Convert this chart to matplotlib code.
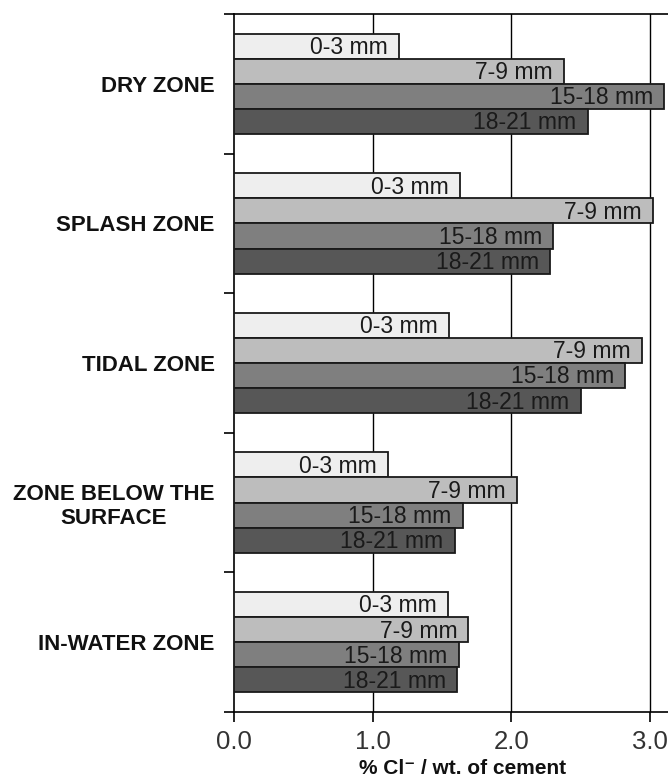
import matplotlib
matplotlib.use("Agg")
import matplotlib.pyplot as plt
import numpy as np

plt.rcParams['font.family'] = ['Liberation Sans', 'DejaVu Sans']

zones = ["DRY ZONE", "SPLASH ZONE", "TIDAL ZONE", "ZONE BELOW THE\nSURFACE", "IN-WATER ZONE"]
depths = ["0-3 mm", "7-9 mm", "15-18 mm", "18-21 mm"]
chloride = {
    "0-3 mm":   [1.19, 1.63, 1.55, 1.11, 1.54],
    "7-9 mm":   [2.38, 3.02, 2.94, 2.04, 1.69],
    "15-18 mm": [3.10, 2.30, 2.82, 1.65, 1.62],
    "18-21 mm": [2.55, 2.28, 2.50, 1.59, 1.61],
}
colors = ["#eeeeee", "#bdbdbd", "#7f7f7f", "#575757"]
xticks = [0.0, 1.0, 2.0, 3.0]

fig = plt.figure(figsize=(6.68, 7.78), dpi=100)
ax = fig.add_axes([234 / 668, 1 - 712 / 778, (677.8 - 234) / 668, (712 - 14) / 778])

h = 0.18
y = np.arange(len(zones))
for k, d in enumerate(depths):
    pos = y + (k - 1.5) * h
    vals = chloride[d]
    ax.barh(pos, vals, height=h, color=colors[k], edgecolor="#1a1a1a",
            linewidth=1.3, zorder=3)
    for p, v in zip(pos, vals):
        ax.text(v - 0.08, p + 0.01, d, ha="right", va="center", fontsize=16.5,
                color="#1a1a1a", zorder=4)

ax.set_xlim(0, 3.2)
ax.set_ylim(len(zones) - 0.5, -0.5)

for xv in xticks[1:]:
    ax.axvline(xv, color="black", linewidth=1.0, zorder=1)

ax.set_xticks(xticks)
ax.set_xticklabels([f"{t:.1f}" for t in xticks], fontsize=18.5, color="#333333")
ax.tick_params(axis="x", direction="out", length=7, width=1.2, pad=6)

ax.set_yticks(y)
ax.set_yticklabels(zones, fontsize=16, fontweight="bold", color="#111111",
                   multialignment="center")
ax.set_yticks(np.arange(len(zones) + 1) - 0.5, minor=True)
ax.tick_params(axis="y", which="major", length=0, pad=14)
ax.tick_params(axis="y", which="minor", length=7, width=1.2, direction="out")

ax.spines["right"].set_visible(False)
for s in ["left", "bottom", "top"]:
    ax.spines[s].set_linewidth(1.2)

ax.set_xlabel("% Cl\u207b / wt. of cement", fontsize=15, fontweight="bold",
              color="#111111")
ax.xaxis.set_label_coords(0.516, -0.068)

fig.savefig("out.png", dpi=100)
